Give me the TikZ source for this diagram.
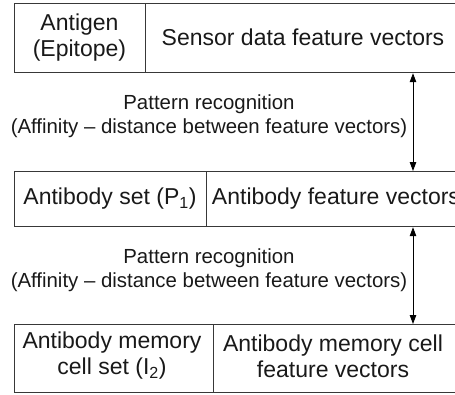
\documentclass[tikz,border=0pt]{standalone}
\usepackage{fontspec}
\setmainfont{Liberation Sans}
\usetikzlibrary{arrows.meta}
\begin{document}
\begin{tikzpicture}[x=1pt,y=-1pt,
  cell/.style={draw=black!78, line width=1.2pt, rectangle, inner sep=0pt, anchor=north west},
  celltext/.style={font=\fontsize{23}{26}\selectfont, align=center, text=black!90, inner sep=0pt},
  note/.style={font=\fontsize{20.4}{23.5}\selectfont, align=center, text=black!90, inner sep=0pt},
  link/.style={line width=0.9pt, {Triangle[length=9pt,width=6.5pt]}-{Triangle[length=9pt,width=6.5pt]}}]
\useasboundingbox (0,0) rectangle (455,394);

% row 1: antigen
\node[cell, minimum width=131pt, minimum height=69pt] (antigen) at (14,3) {};
\node[cell, minimum width=330pt, minimum height=69pt] (sensor) at (145,3) {};
\node[celltext] (antigenT) at (79.5,37.5) {Antigen\\(Epitope)};
\node[celltext] (sensorT) at (303,37) {Sensor data feature vectors};

% row 2: antibody set (right cell runs past the page edge)
\node[cell, minimum width=192pt, minimum height=55pt] (abset) at (14,171) {};
\node[cell, minimum width=300pt, minimum height=55pt] (abvec) at (206,171) {};
\node[celltext] (absetT) at (110,198.5) {Antibody set (P\textsubscript{1})};
\node[celltext] (abvecT) at (336,198.5) {Antibody feature vectors};

% row 3: memory cells
\node[cell, minimum width=199pt, minimum height=68pt] (memset) at (14,324) {};
\node[cell, minimum width=280pt, minimum height=68pt] (memvec) at (213,324) {};
\node[celltext] (memsetT) at (112,356) {Antibody memory\\cell set (I\textsubscript{2})};
\node[celltext] (memvecT) at (333,356) {Antibody memory cell\\feature vectors};

% recognition labels
\node[note] (pr1) at (209,116) {Pattern recognition\\(Affinity -- distance between feature vectors)};
\node[note] (pr2) at (209,270) {Pattern recognition\\(Affinity -- distance between feature vectors)};

% matching arrows
\coordinate (ax) at (413,0);
\draw[link] (sensor.south -| ax) -- (abvec.north -| ax);
\draw[link] (abvec.south -| ax) -- (memvec.north -| ax);
\end{tikzpicture}
\end{document}
